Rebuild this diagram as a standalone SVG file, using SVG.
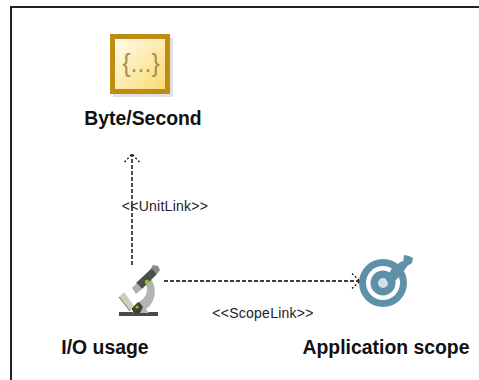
<svg xmlns="http://www.w3.org/2000/svg" width="479" height="380" viewBox="0 0 479 380">
<style>
.l{font:bold 19.4px "Liberation Sans",Arial,sans-serif;fill:#111}
.s{font:14px "Liberation Sans",Arial,sans-serif;fill:#222;letter-spacing:.25px}
.c{fill:none;stroke:#000;stroke-width:1.4;stroke-dasharray:4 2}
</style>
<defs>
<linearGradient id="g" x1="0" y1="0" x2="1" y2="1"><stop offset="0" stop-color="#fffdf2"/><stop offset="1" stop-color="#fbd86e"/></linearGradient>
<marker id="a" markerWidth="12" markerHeight="18" refX="9" refY="9" orient="auto" markerUnits="userSpaceOnUse"><path d="M1 1.5L9 9L1 16.5" fill="none" stroke="#000" stroke-width="1.2" stroke-dasharray="2 2"/></marker>
</defs>
<rect x="11" y="7" width="480" height="380" fill="#fff" stroke="#222" stroke-width="2"/>
<g id="connectors">
<path class="c" d="M132 265V154" marker-end="url(#a)"/>
<path class="c" d="M164 281H360" marker-end="url(#a)"/>
</g>
<g id="byte-second">
<rect x="113" y="38" width="60" height="59" fill="#bbb" opacity=".45"/>
<rect x="112.5" y="36.5" width="55" height="55" fill="url(#g)" stroke="#bd8c10" stroke-width="5"/>
<text x="141" y="72" text-anchor="middle" style="font:25px 'Liberation Sans',sans-serif;fill:#a89050">{...}</text>
<text class="l" x="143" y="125" text-anchor="middle">Byte/Second</text>
</g>
<g id="io-usage">
<path d="M119 312H158V316H119Z" fill="#4a4a4a"/>
<path d="M133 313L136 303C145 300 149 293 146 284L151 279C158 290 155 303 146 309L149 313Z" fill="#b4b4b4"/>
<path d="M131 308L139 302L143 307L140 313H134Z" fill="#3c4038"/>
<path d="M136 283L152 268L157 274L142 289Z" fill="#4a4f48"/>
<path d="M151 268L153 265L158 266L160 270L157 274Z" fill="#8c8c8c"/>
<path d="M132 288L137 283L142 289L136 294Z" fill="#b0b0b0"/>
<path d="M119 297L124 292L134 306L130 311Z" fill="#cfcfb8"/>
<path d="M119 297L130 311" stroke="#888" stroke-width="1.2"/>
<circle cx="147" cy="282" r="2.3" fill="#8fc31f"/><circle cx="137" cy="307" r="1.6" fill="#8fc31f"/>
<text class="l" x="105" y="354" text-anchor="middle">I/O usage</text>
</g>
<g id="application-scope">
<circle cx="383" cy="283" r="24" fill="#5e90a8"/>
<circle cx="383" cy="283" r="17" fill="#fff"/>
<circle cx="383" cy="283" r="12.5" fill="#5e90a8"/>
<circle cx="383" cy="283" r="5" fill="#cfe0e8"/>
<path d="M386 279L392 268L402 261L408 265L401 275L390 286Z" fill="#5e90a8"/>
<path d="M403 263L404 255L409 256L413 258L412 263L407 266Z" fill="#5e90a8"/>
<text class="l" x="386" y="354" text-anchor="middle">Application scope</text>
</g>
<text class="s" x="165" y="211" text-anchor="middle">&lt;&lt;UnitLink&gt;&gt;</text>
<text class="s" x="263" y="318" text-anchor="middle">&lt;&lt;ScopeLink&gt;&gt;</text>
</svg>
